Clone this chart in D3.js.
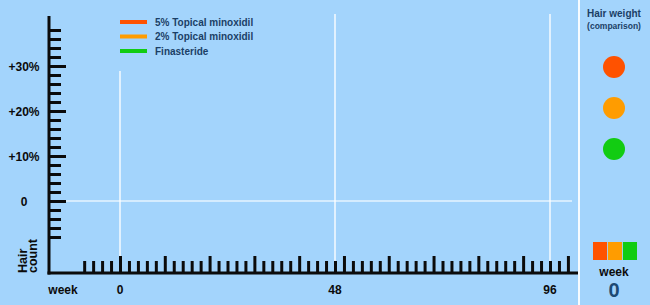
<!DOCTYPE html>
<html>
<head>
<meta charset="utf-8">
<script src="https://cdn.jsdelivr.net/npm/d3@7"></script>
<style>
  html, body { margin: 0; padding: 0; background: #a3d4fc; }
  svg { display: block; }
</style>
</head>
<body>
<div id="container"></div>
<script>
"use strict";

// data
const treatments = ["5% Topical minoxidil", "2% Topical minoxidil", "Finasteride"];
const treatmentColors = ["#ff5200", "#ff9c00", "#12cc12"];
const yLabelValues = [0, 10, 20, 30];
const xLabelValues = [0, 48, 96];
const gridWeeks = [0, 48, 96];
const currentWeek = 0;

const width = 650;
const height = 305;
const ink = "#0b0b0b";
const navy = "#1b3f66";

const xScale = d3.scaleLinear().domain([0, 96]).range([120, 550]);
const yScale = d3.scaleLinear().domain([0, 30]).range([201, 66]);
const color = d3.scaleOrdinal().domain(treatments).range(treatmentColors);

const svg = d3
  .select("#container")
  .append("svg")
  .attr("width", width)
  .attr("height", height);

svg.append("rect").attr("width", width).attr("height", height).attr("fill", "#a3d4fc");

// grid lines
svg
  .selectAll(".vgrid")
  .data(gridWeeks)
  .enter()
  .append("line")
  .attr("class", "vgrid")
  .attr("x1", (d) => xScale(d))
  .attr("x2", (d) => xScale(d))
  .attr("y1", (d) => (d === 0 ? 71 : 14))
  .attr("y2", 273)
  .attr("stroke", "#ffffff")
  .attr("stroke-opacity", 0.9)
  .attr("stroke-width", 1.5);

svg
  .append("line")
  .attr("x1", 66)
  .attr("x2", 572)
  .attr("y1", yScale(0))
  .attr("y2", yScale(0))
  .attr("stroke", "#ffffff")
  .attr("stroke-opacity", 0.55)
  .attr("stroke-width", 2);

// panel separator
svg
  .append("line")
  .attr("x1", 579)
  .attr("x2", 579)
  .attr("y1", 0)
  .attr("y2", height)
  .attr("stroke", "#ffffff")
  .attr("stroke-opacity", 0.9)
  .attr("stroke-width", 2);

// y axis
const yTicks = d3.range(-8, 39, 2);
const yAxis = d3
  .axisRight(yScale)
  .tickValues(yTicks)
  .tickSizeInner(0)
  .tickSizeOuter(0)
  .tickFormat("");

const yG = svg.append("g").attr("transform", "translate(49,0)").call(yAxis);
yG.select(".domain").remove();
yG.selectAll(".tick line")
  .attr("x2", (d) => (d % 10 === 0 ? 17 : 12))
  .attr("stroke", ink)
  .attr("stroke-width", 3);

svg
  .append("line")
  .attr("x1", 49)
  .attr("x2", 49)
  .attr("y1", 16)
  .attr("y2", 274.5)
  .attr("stroke", ink)
  .attr("stroke-width", 3);

svg
  .selectAll(".ylab")
  .data(yLabelValues)
  .enter()
  .append("text")
  .attr("class", "ylab")
  .attr("x", 24)
  .attr("y", (d) => yScale(d) + 4.5)
  .attr("text-anchor", "middle")
  .style("font-family", "Liberation Sans, Arial, sans-serif")
  .style("font-weight", "bold")
  .style("font-size", "12px")
  .attr("fill", ink)
  .text((d) => (d === 0 ? "0" : `+${d}%`));

// x axis
const xTicks = d3.range(-8, 101, 2);
const xAxis = d3
  .axisTop(xScale)
  .tickValues(xTicks)
  .tickSizeInner(0)
  .tickSizeOuter(0)
  .tickFormat("");

const xG = svg.append("g").attr("transform", "translate(0,273)").call(xAxis);
xG.select(".domain").remove();
xG.selectAll(".tick line")
  .attr("y2", (d) => (d % 10 === 0 ? -17 : -12))
  .attr("stroke", ink)
  .attr("stroke-width", 3);

svg
  .append("line")
  .attr("x1", 47.5)
  .attr("x2", 578)
  .attr("y1", 273)
  .attr("y2", 273)
  .attr("stroke", ink)
  .attr("stroke-width", 3);

svg
  .selectAll(".xlab")
  .data(xLabelValues)
  .enter()
  .append("text")
  .attr("class", "xlab")
  .attr("x", (d) => xScale(d))
  .attr("y", 294)
  .attr("text-anchor", "middle")
  .style("font-family", "Liberation Sans, Arial, sans-serif")
  .style("font-weight", "bold")
  .style("font-size", "12px")
  .attr("fill", ink)
  .text((d) => d);

svg
  .append("text")
  .attr("x", 63)
  .attr("y", 294)
  .attr("text-anchor", "middle")
  .style("font-family", "Liberation Sans, Arial, sans-serif")
  .style("font-weight", "bold")
  .style("font-size", "12px")
  .attr("fill", ink)
  .text("week");

const yTitle = svg
  .append("text")
  .attr("transform", "translate(27,273) rotate(-90)")
  .style("font-family", "Liberation Sans, Arial, sans-serif")
  .style("font-weight", "bold")
  .style("font-size", "12.5px")
  .attr("fill", ink);
yTitle.append("tspan").attr("x", 0).attr("y", 0).text("Hair");
yTitle.append("tspan").attr("x", 0).attr("y", 10).text("count");

// legend
const legendY = d3.scalePoint().domain(treatments).range([22, 51]);

const legend = svg
  .selectAll(".legend")
  .data(treatments)
  .enter()
  .append("g")
  .attr("class", "legend")
  .attr("transform", (d) => `translate(120,${legendY(d)})`);

legend
  .append("line")
  .attr("x1", 0)
  .attr("x2", 27)
  .attr("stroke", (d) => color(d))
  .attr("stroke-width", 4);

legend
  .append("text")
  .attr("x", 35)
  .attr("y", 3.5)
  .style("font-family", "Liberation Sans, Arial, sans-serif")
  .style("font-weight", "bold")
  .style("font-size", "10px")
  .attr("fill", navy)
  .text((d) => d);

// right panel: hair weight comparison
svg
  .append("text")
  .attr("x", 614)
  .attr("y", 17)
  .attr("text-anchor", "middle")
  .style("font-family", "Liberation Sans, Arial, sans-serif")
  .style("font-weight", "bold")
  .style("font-size", "10px")
  .attr("fill", navy)
  .text("Hair weight");

svg
  .append("text")
  .attr("x", 614)
  .attr("y", 29)
  .attr("text-anchor", "middle")
  .style("font-family", "Liberation Sans, Arial, sans-serif")
  .style("font-weight", "bold")
  .style("font-size", "8.5px")
  .attr("fill", navy)
  .text("(comparison)");

const dotY = d3.scalePoint().domain(treatments).range([67, 149]);

svg
  .selectAll(".weight")
  .data(treatments)
  .enter()
  .append("circle")
  .attr("class", "weight")
  .attr("cx", 614)
  .attr("cy", (d) => dotY(d))
  .attr("r", 11)
  .attr("fill", (d) => color(d));

const swatchX = d3.scaleBand().domain(treatments).range([593, 637]).paddingInner(0.06);

svg
  .selectAll(".swatch")
  .data(treatments)
  .enter()
  .append("rect")
  .attr("class", "swatch")
  .attr("x", (d) => swatchX(d))
  .attr("y", 242)
  .attr("width", swatchX.bandwidth())
  .attr("height", 18)
  .attr("fill", (d) => color(d));

svg
  .append("text")
  .attr("x", 614)
  .attr("y", 276)
  .attr("text-anchor", "middle")
  .style("font-family", "Liberation Sans, Arial, sans-serif")
  .style("font-weight", "bold")
  .style("font-size", "12px")
  .attr("fill", ink)
  .text("week");

svg
  .append("text")
  .attr("x", 614)
  .attr("y", 297)
  .attr("text-anchor", "middle")
  .style("font-family", "Liberation Sans, Arial, sans-serif")
  .style("font-weight", "bold")
  .style("font-size", "20px")
  .attr("fill", "#1d4a73")
  .text(currentWeek);
</script>
</body>
</html>
